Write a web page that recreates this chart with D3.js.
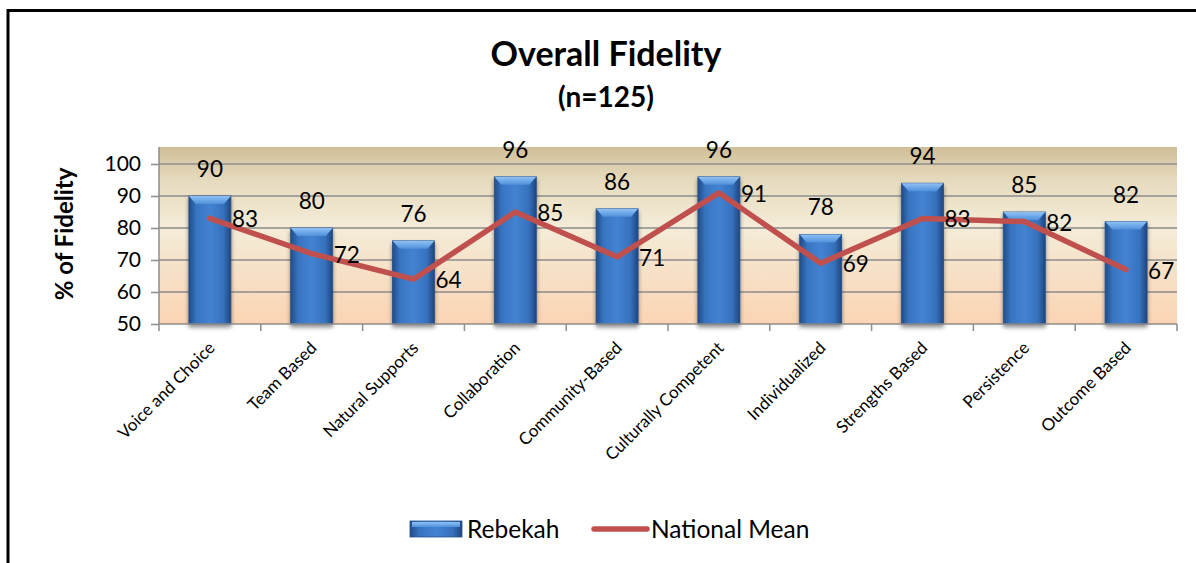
<!DOCTYPE html>
<html>
<head>
<meta charset="utf-8">
<script src="https://cdn.jsdelivr.net/npm/d3@7"></script>
<style>
  body { margin: 0; background: #fff; }
  text { font-family: Lato, "Open Sans", sans-serif; fill: #000; }
</style>
</head>
<body>
<script>
// Overall Fidelity chart: bars for Rebekah, line for the national mean
var categories = ["Voice and Choice", "Team Based", "Natural Supports", "Collaboration",
  "Community-Based", "Culturally Competent", "Individualized", "Strengths Based",
  "Persistence", "Outcome Based"];
var rebekah = [90, 80, 76, 96, 86, 96, 78, 94, 85, 82];
var nationalMean = [83, 72, 64, 85, 71, 91, 69, 83, 82, 67];
var yTicks = [50, 60, 70, 80, 90, 100];

var W = 1196, H = 563;
var plotLeft = 159, plotRight = 1177, plotTop = 147, plotBottom = 324;

var svg = d3.select("body").append("svg")
    .attr("width", W)
    .attr("height", H);

var defs = svg.append("defs");

var bg = defs.append("linearGradient").attr("id", "bg")
    .attr("x1", 0).attr("y1", 0).attr("x2", 0).attr("y2", 1);
bg.append("stop").attr("offset", "0%").attr("stop-color", "#cfbf98");
bg.append("stop").attr("offset", "18%").attr("stop-color", "#e6dabd");
bg.append("stop").attr("offset", "45%").attr("stop-color", "#f4ecd8");
bg.append("stop").attr("offset", "75%").attr("stop-color", "#f7dfc4");
bg.append("stop").attr("offset", "100%").attr("stop-color", "#fbd4b3");

var barG = defs.append("linearGradient").attr("id", "bar")
    .attr("x1", 0).attr("y1", 0).attr("x2", 1).attr("y2", 0);
barG.append("stop").attr("offset", "0%").attr("stop-color", "#214d8a");
barG.append("stop").attr("offset", "18%").attr("stop-color", "#3874c0");
barG.append("stop").attr("offset", "50%").attr("stop-color", "#4383d2");
barG.append("stop").attr("offset", "82%").attr("stop-color", "#3671bc");
barG.append("stop").attr("offset", "100%").attr("stop-color", "#1e467f");

var capG = defs.append("linearGradient").attr("id", "cap")
    .attr("x1", 0).attr("y1", 0).attr("x2", 0).attr("y2", 1);
capG.append("stop").attr("offset", "0%").attr("stop-color", "#8fc2f5");
capG.append("stop").attr("offset", "100%").attr("stop-color", "#4f90dc");

var shadow = defs.append("filter").attr("id", "shadow")
    .attr("x", "-30%").attr("y", "-10%").attr("width", "160%").attr("height", "130%");
shadow.append("feGaussianBlur").attr("in", "SourceAlpha").attr("stdDeviation", 2);
shadow.append("feOffset").attr("dx", 0).attr("dy", 3).attr("result", "b");
shadow.append("feComponentTransfer").append("feFuncA").attr("type", "linear").attr("slope", 0.45);
var merge = shadow.append("feMerge");
merge.append("feMergeNode");
merge.append("feMergeNode").attr("in", "SourceGraphic");

// outer frame (top and left edge only are visible)
svg.append("line").attr("x1", 8).attr("x2", W).attr("y1", 10.5).attr("y2", 10.5)
    .attr("stroke", "#000").attr("stroke-width", 3);
svg.append("line").attr("x1", 8).attr("x2", 8).attr("y1", 9).attr("y2", H)
    .attr("stroke", "#000").attr("stroke-width", 3);

var x = d3.scaleBand().domain(categories).range([plotLeft, plotRight]).padding(0);
var y = d3.scaleLinear().domain([50, 100]).range([plotBottom, 164]);

svg.append("rect")
    .attr("x", plotLeft).attr("y", plotTop)
    .attr("width", plotRight - plotLeft).attr("height", plotBottom - plotTop)
    .attr("fill", "url(#bg)");

// gridlines
svg.append("g").selectAll("line").data(yTicks.slice(1)).join("line")
    .attr("x1", plotLeft).attr("x2", plotRight)
    .attr("y1", function(d) { return y(d); }).attr("y2", function(d) { return y(d); })
    .attr("stroke", "#8c8c8c").attr("stroke-width", 1.5);

// y axis
var yAxis = svg.append("g")
    .attr("transform", "translate(" + plotLeft + ",0)")
    .call(d3.axisLeft(y).tickValues(yTicks).tickSize(8).tickPadding(10));
yAxis.select(".domain").remove();
yAxis.append("line").attr("x1", 0).attr("x2", 0).attr("y1", plotTop).attr("y2", plotBottom)
    .attr("stroke", "#8c8c8c").attr("stroke-width", 1.5);
yAxis.selectAll(".tick line").attr("stroke", "#8c8c8c").attr("stroke-width", 1.5);
yAxis.selectAll(".tick text")
    .style("font-family", "Lato, 'Open Sans', sans-serif")
    .style("font-size", "21px").attr("fill", "#000");

// bars
var bw = 42;
var bars = svg.append("g").selectAll("g").data(rebekah).join("g")
    .attr("filter", "url(#shadow)");
bars.append("rect")
    .attr("x", function(d, i) { return x(categories[i]) + x.bandwidth() / 2 - bw / 2; })
    .attr("y", function(d) { return y(d); })
    .attr("width", bw)
    .attr("height", function(d) { return plotBottom - y(d); })
    .attr("fill", "url(#bar)")
    .attr("stroke", "#234f8a").attr("stroke-width", 0.8);
bars.append("path")
    .attr("d", function(d, i) {
      var x0 = x(categories[i]) + x.bandwidth() / 2 - bw / 2, y0 = y(d);
      return "M" + x0 + "," + y0 + "L" + (x0 + bw) + "," + y0 +
        "L" + (x0 + bw - 7) + "," + (y0 + 8) + "L" + (x0 + 7) + "," + (y0 + 8) + "Z";
    })
    .attr("fill", "url(#cap)");

// x axis
svg.append("line").attr("x1", plotLeft).attr("x2", plotRight).attr("y1", plotBottom).attr("y2", plotBottom)
    .attr("stroke", "#8c8c8c").attr("stroke-width", 1.5);
svg.append("g").selectAll("line").data(categories.concat(["end"])).join("line")
    .attr("x1", function(d, i) { return plotLeft + i * x.bandwidth(); })
    .attr("x2", function(d, i) { return plotLeft + i * x.bandwidth(); })
    .attr("y1", plotBottom).attr("y2", plotBottom + 7)
    .attr("stroke", "#8c8c8c").attr("stroke-width", 1.5);

svg.append("g").selectAll("text").data(categories).join("text")
    .attr("text-anchor", "end")
    .attr("transform", function(d) {
      return "translate(" + (x(d) + x.bandwidth() / 2 + 6) + "," + 349 + ")rotate(-45)";
    })
    .style("font-size", "17px")
    .text(function(d) { return d; });

// national mean line
var line = d3.line()
    .x(function(d, i) { return x(categories[i]) + x.bandwidth() / 2; })
    .y(function(d) { return y(d); });
svg.append("path").datum(nationalMean)
    .attr("d", line)
    .attr("fill", "none")
    .attr("stroke", "#c0504d")
    .attr("stroke-width", 5.5)
    .attr("stroke-linecap", "round")
    .attr("stroke-linejoin", "round");

// data labels
svg.append("g").selectAll("text").data(rebekah).join("text")
    .attr("x", function(d, i) { return x(categories[i]) + x.bandwidth() / 2; })
    .attr("y", function(d) { return y(d) - 19; })
    .attr("text-anchor", "middle")
    .style("font-size", "22.5px")
    .text(function(d) { return d; });
svg.append("g").selectAll("text").data(nationalMean).join("text")
    .attr("x", function(d, i) { return x(categories[i]) + x.bandwidth() / 2 + 22; })
    .attr("y", function(d) { return y(d) + 9; })
    .style("font-size", "22.5px")
    .text(function(d) { return d; });

// titles
svg.append("text").attr("x", 606).attr("y", 66).attr("text-anchor", "middle")
    .style("font-size", "34px").style("font-weight", "bold").text("Overall Fidelity");
svg.append("text").attr("x", 606).attr("y", 107).attr("text-anchor", "middle")
    .style("font-size", "28px").style("font-weight", "bold").text("(n=125)");
svg.append("text")
    .attr("transform", "translate(73,234)rotate(-90)")
    .attr("text-anchor", "middle")
    .style("font-size", "24px").style("font-weight", "bold").text("% of Fidelity");

// legend
var lg = svg.append("g");
lg.append("rect").attr("x", 410).attr("y", 521).attr("width", 52).attr("height", 16)
    .attr("fill", "url(#bar)").attr("stroke", "#234f8a").attr("stroke-width", 0.8);
lg.append("rect").attr("x", 412).attr("y", 522).attr("width", 48).attr("height", 5)
    .attr("fill", "url(#cap)");
lg.append("text").attr("x", 467).attr("y", 538).style("font-size", "24.5px").text("Rebekah");
lg.append("line").attr("x1", 594).attr("x2", 647).attr("y1", 529).attr("y2", 529)
    .attr("stroke", "#c0504d").attr("stroke-width", 5.5).attr("stroke-linecap", "round");
lg.append("text").attr("x", 651).attr("y", 538).style("font-size", "24.5px").text("National Mean");
</script>
</body>
</html>
